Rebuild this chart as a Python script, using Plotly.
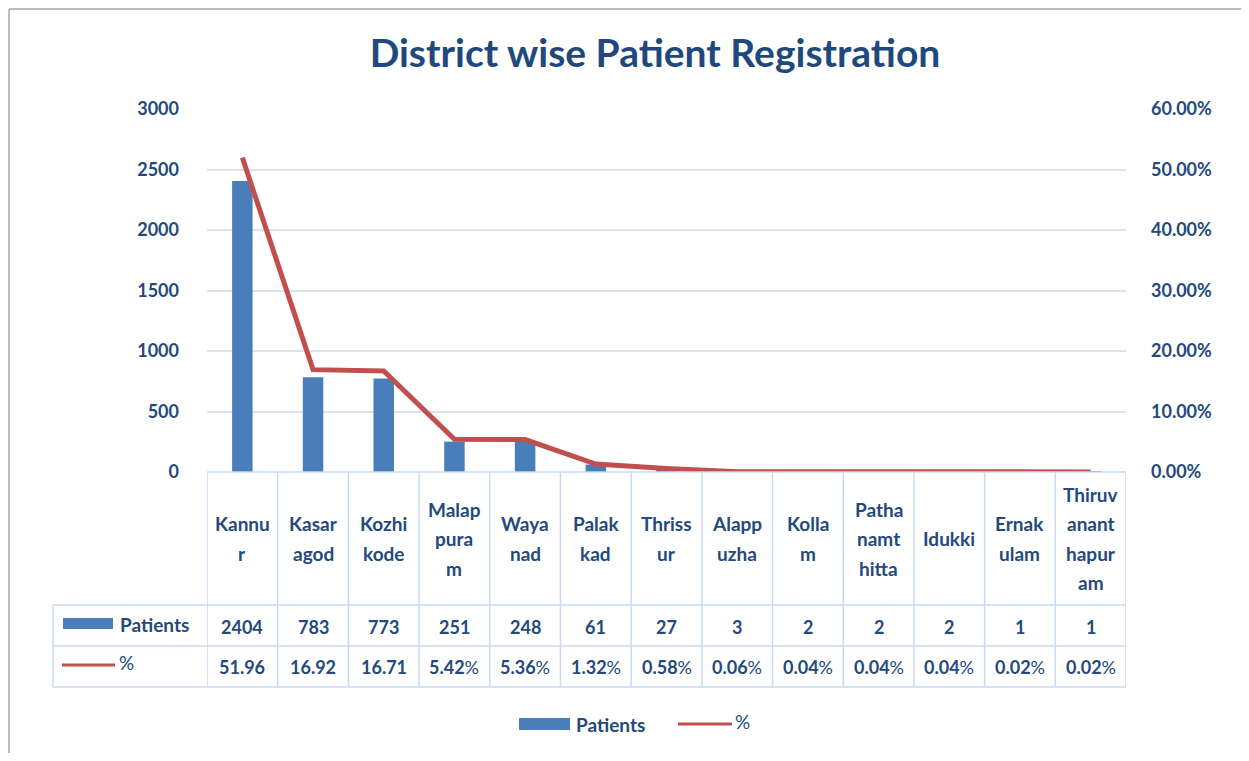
import plotly.graph_objects as go

# ---------------- data ----------------
districts = ["Kannur", "Kasaragod", "Kozhikode", "Malappuram", "Wayanad", "Palakkad",
             "Thrissur", "Alappuzha", "Kollam", "Pathanamthitta", "Idukki",
             "Ernakulam", "Thiruvananthapuram"]
district_label_lines = [["Kannu", "r"], ["Kasar", "agod"], ["Kozhi", "kode"],
                        ["Malap", "pura", "m"], ["Waya", "nad"], ["Palak", "kad"],
                        ["Thriss", "ur"], ["Alapp", "uzha"], ["Kolla", "m"],
                        ["Patha", "namt", "hitta"], ["Idukki"], ["Ernak", "ulam"],
                        ["Thiruv", "anant", "hapur", "am"]]
patients = [2404, 783, 773, 251, 248, 61, 27, 3, 2, 2, 2, 1, 1]
percent = [51.96, 16.92, 16.71, 5.42, 5.36, 1.32, 0.58, 0.06, 0.04, 0.04, 0.04, 0.02, 0.02]
left_ticks = [0, 500, 1000, 1500, 2000, 2500, 3000]
right_ticks = [0, 10, 20, 30, 40, 50, 60]
right_tick_labels = ["%.2f%%" % v for v in right_ticks]
series_names = ["Patients", "%"]
title_text = "District wise Patient Registration"

# ---------------- layout helpers ----------------
OFF = 8  # page body margin
W, H = 1249 - 2 * OFF, 761 - 2 * OFF
L, R, T, B = 207 - OFF, 1126 - OFF, 109 - OFF, 472 - OFF
BLUE = "#4A7EBB"
RED = "#C0504D"
TXT = "#24497C"
GRID = "#D9E4F1"
TBL = "#C9DAF0"
FONT = "Lato"


def px(X):
    """reference-picture x pixel -> paper coordinate"""
    return (X - OFF - L) / (R - L)


def py(Y):
    """reference-picture y pixel -> paper coordinate"""
    return (B - (Y - OFF)) / (B - T)


fig = go.Figure()
fig.add_trace(go.Bar(x=districts, y=patients, name=series_names[0],
                     marker=dict(color=BLUE, line=dict(width=0)), width=0.29,
                     yaxis="y", showlegend=False))
fig.add_trace(go.Scatter(x=districts, y=percent, name=series_names[1], mode="lines",
                         line=dict(color=RED, width=5), yaxis="y2", showlegend=False))

shapes = []
annotations = []

# outer chart border (top and left edges visible in the picture)
shapes.append(dict(type="line", xref="paper", yref="paper", x0=px(9), x1=px(1249),
                   y0=py(9), y1=py(9), line=dict(color="#A6A6A6", width=1.5)))
shapes.append(dict(type="line", xref="paper", yref="paper", x0=px(9), x1=px(9),
                   y0=py(9), y1=py(761), line=dict(color="#A6A6A6", width=1.5)))

# data table grid
n = len(districts)
for i in range(n + 1):
    shapes.append(dict(type="line", xref="x", yref="paper", x0=i - 0.5, x1=i - 0.5,
                       y0=py(472), y1=py(687), line=dict(color=TBL, width=1.5)))
shapes.append(dict(type="line", xref="paper", yref="paper", x0=0, x1=1,
                   y0=py(472), y1=py(472), line=dict(color=TBL, width=1.5)))
for Y in (605, 646, 687):
    shapes.append(dict(type="line", xref="paper", yref="paper", x0=px(53), x1=1,
                       y0=py(Y), y1=py(Y), line=dict(color=TBL, width=1.5)))
shapes.append(dict(type="line", xref="paper", yref="paper", x0=px(53), x1=px(53),
                   y0=py(605), y1=py(687), line=dict(color=TBL, width=1.5)))

# table legend keys
shapes.append(dict(type="rect", xref="paper", yref="paper", x0=px(63), x1=px(113),
                   y0=py(629), y1=py(618), fillcolor=BLUE, line=dict(width=0)))
shapes.append(dict(type="line", xref="paper", yref="paper", x0=px(62), x1=px(115),
                   y0=py(665), y1=py(665), line=dict(color=RED, width=3)))
annotations.append(dict(text="<b>" + series_names[0] + "</b>", xref="paper", yref="paper",
                        x=px(118), y=py(624), xanchor="left", yanchor="middle",
                        showarrow=False, font=dict(family=FONT, size=19, color=TXT)))
annotations.append(dict(text=series_names[1], xref="paper", yref="paper",
                        x=px(117), y=py(662), xanchor="left", yanchor="middle",
                        showarrow=False, font=dict(family=FONT, size=19, color=TXT)))

# table cells
for i, d in enumerate(districts):
    lines = district_label_lines[i]
    k = len(lines)
    for j, ln in enumerate(lines):
        Y = 538.5 + (j - (k - 1) / 2) * 29.5
        annotations.append(dict(text="<b>" + ln + "</b>", xref="x", yref="paper", x=d,
                                y=py(Y), xanchor="center", yanchor="middle",
                                showarrow=False, font=dict(family=FONT, size=19, color=TXT)))
    annotations.append(dict(text="<b>" + str(patients[i]) + "</b>", xref="x", yref="paper",
                            x=d, y=py(627), xanchor="center", yanchor="middle",
                            showarrow=False, font=dict(family=FONT, size=18, color=TXT)))
    v = percent[i]
    ptxt = "<b>%.2f</b>" % v + ("%" if v < 10 else "")
    annotations.append(dict(text=ptxt, xref="x", yref="paper",
                            x=d, y=py(667), xanchor="center", yanchor="middle",
                            showarrow=False, font=dict(family=FONT, size=18, color=TXT)))

# bottom legend
shapes.append(dict(type="rect", xref="paper", yref="paper", x0=px(519), x1=px(570),
                   y0=py(730), y1=py(718), fillcolor=BLUE, line=dict(width=0)))
shapes.append(dict(type="line", xref="paper", yref="paper", x0=px(678), x1=px(732),
                   y0=py(724), y1=py(724), line=dict(color=RED, width=3)))
annotations.append(dict(text="<b>" + series_names[0] + "</b>", xref="paper", yref="paper",
                        x=px(574), y=py(724), xanchor="left", yanchor="middle",
                        showarrow=False, font=dict(family=FONT, size=19, color=TXT)))
annotations.append(dict(text=series_names[1], xref="paper", yref="paper",
                        x=px(733), y=py(721), xanchor="left", yanchor="middle",
                        showarrow=False, font=dict(family=FONT, size=19, color=TXT)))

fig.update_layout(
    width=W, height=H,
    margin=dict(l=L, r=W - R, t=T, b=H - B, pad=0),
    paper_bgcolor="white", plot_bgcolor="white",
    title=dict(text="<b>" + title_text + "</b>", x=(655 - OFF) / W, xanchor="center",
               y=1 - (53 - OFF) / H, yanchor="middle",
               font=dict(family=FONT, size=39, color="#1F497D")),
    xaxis=dict(type="category", range=[-0.5, n - 0.5], showticklabels=False,
               showgrid=False, zeroline=False, showline=False, fixedrange=True),
    yaxis=dict(range=[0, 3000], tickvals=left_ticks, showgrid=True, gridcolor=GRID,
               gridwidth=1.5, zeroline=False, showline=False, ticks="",
               ticklabelstandoff=27,
               tickfont=dict(family=FONT, size=18, color=TXT, weight="bold")),
    yaxis2=dict(range=[0, 60], tickvals=right_ticks, ticktext=right_tick_labels,
                overlaying="y", side="right",
                showgrid=False, zeroline=False, showline=False, ticks="",
                ticklabelstandoff=24,
                tickfont=dict(family=FONT, size=18, color=TXT, weight="bold")),
    shapes=shapes,
    annotations=annotations,
    showlegend=False,
)

fig.write_html("out.html")
